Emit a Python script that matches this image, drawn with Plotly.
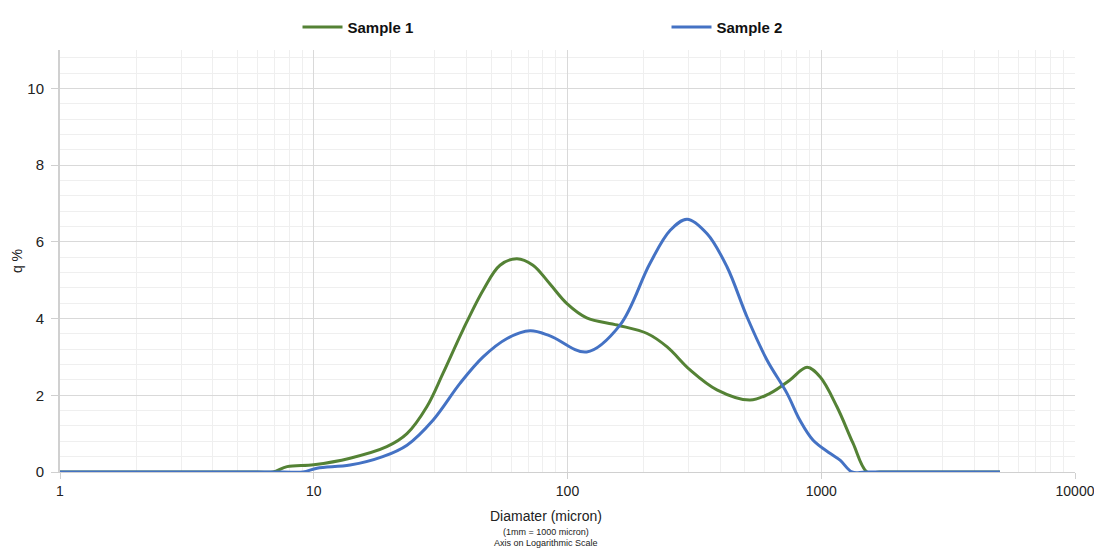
import plotly.graph_objects as go

# Sample 1 (green)
s1_d = [1, 3, 6.0, 6.91, 7.85, 10, 13.9, 19.4, 23.3, 27.9, 32.3, 38.7, 46.5, 54.2, 63.2, 73.1,
        85.3, 99.5, 119, 157, 206, 247, 304, 388, 524, 628, 753, 879, 989, 1153, 1334, 1514,
        1700, 3000, 5060]
s1_q = [0, 0, 0, 0, 0.14, 0.19, 0.36, 0.66, 1.0, 1.7, 2.57, 3.7, 4.74, 5.39, 5.56, 5.39,
        4.9, 4.39, 4.02, 3.83, 3.61, 3.26, 2.66, 2.14, 1.875, 2.05, 2.4, 2.73, 2.48, 1.7, 0.75, 0,
        0, 0, 0]

# Sample 2 (blue)
s2_d = [1, 3, 7.5, 9.07, 10.3, 13.9, 18.7, 23.3, 29.5, 37.7, 46.5, 57.8, 71.2, 85.3, 119, 161,
        211, 254, 296, 355, 425, 510, 611, 733, 824, 929, 1082, 1186, 1322, 1500, 3000, 5060]
s2_q = [0, 0, 0, 0, 0.1, 0.18, 0.4, 0.7, 1.35, 2.31, 3.0, 3.48, 3.68, 3.55, 3.13, 3.83,
        5.43, 6.30, 6.59, 6.21, 5.35, 4.04, 2.92, 2.05, 1.35, 0.83, 0.49, 0.31, 0, 0, 0, 0]

x_tickvals = [1, 10, 100, 1000, 10000]
x_ticktext = ["1", "10", "100", "1000", "10000"]
y_tickvals = [0, 2, 4, 6, 8, 10]

FONT = "Liberation Sans, Arial, sans-serif"

fig = go.Figure()
fig.add_trace(go.Scatter(x=s1_d, y=s1_q, mode="lines", name="Sample 1",
                         line=dict(color="#548235", width=3, shape="spline", smoothing=1.0)))
fig.add_trace(go.Scatter(x=s2_d, y=s2_q, mode="lines", name="Sample 2",
                         line=dict(color="#4472C4", width=3, shape="spline", smoothing=1.0)))

fig.update_layout(
    width=1094, height=541,
    margin=dict(l=52, r=27, t=42, b=77, autoexpand=False),
    paper_bgcolor="white", plot_bgcolor="white",
    font=dict(family=FONT, color="#222222", size=14),
    showlegend=True,
    legend=dict(orientation="h", x=0.234, xanchor="left",
                yref="container", y=0.995, yanchor="top",
                entrywidth=314, entrywidthmode="pixels", itemwidth=40,
                font=dict(family=FONT, size=15, color="#111111", weight="bold"),
                bgcolor="rgba(0,0,0,0)"),
    xaxis=dict(type="log", range=[0, 4], tickvals=x_tickvals, ticktext=x_ticktext,
               showgrid=True, gridcolor="#d9d9d9", gridwidth=1,
               minor=dict(showgrid=True, gridcolor="#efefef", dtick="D1", ticks=""),
               showline=True, linecolor="#d0d0d0", linewidth=1,
               ticks="outside", ticklen=6, tickcolor="#d0d0d0",
               zeroline=False, automargin=False,
               tickfont=dict(size=14, color="#222222")),
    yaxis=dict(range=[0, 11], tickvals=y_tickvals,
               showgrid=True, gridcolor="#d9d9d9", gridwidth=1,
               minor=dict(showgrid=True, gridcolor="#efefef", dtick=0.4, tick0=0, ticks=""),
               showline=True, linecolor="#d0d0d0", linewidth=2,
               ticks="outside", ticklen=7, tickcolor="#d0d0d0",
               ticklabelstandoff=4,
               zeroline=False, automargin=False,
               tickfont=dict(size=15, color="#222222"),
               title=dict(text="q %", font=dict(size=14, color="#222222"), standoff=1)),
    annotations=[
        dict(text="Diamater (micron)", xref="paper", yref="paper", x=0.479, y=-0.104,
             xanchor="center", yanchor="middle", showarrow=False,
             font=dict(size=14, color="#222222")),
        dict(text="(1mm = 1000 micron)", xref="paper", yref="paper", x=0.479, y=-0.142,
             xanchor="center", yanchor="middle", showarrow=False,
             font=dict(size=9, color="#222222")),
        dict(text="Axis on Logarithmic Scale", xref="paper", yref="paper", x=0.479, y=-0.168,
             xanchor="center", yanchor="middle", showarrow=False,
             font=dict(size=9, color="#222222")),
    ],
)

fig.write_html("out.html")
